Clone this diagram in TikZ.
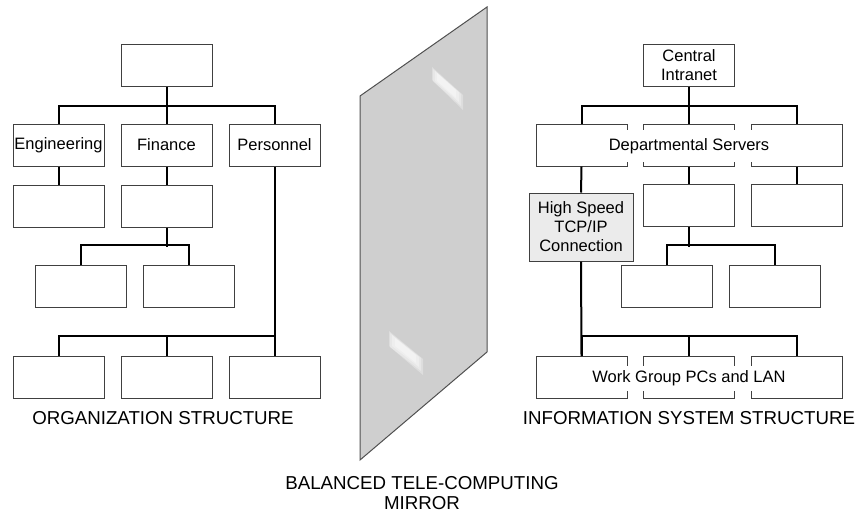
\documentclass[tikz,border=0pt]{standalone}
\usepackage{fontspec}
\setmainfont{Liberation Sans}
\usetikzlibrary{positioning}
\definecolor{boxline}{HTML}{404040}
\definecolor{mirrorfill}{HTML}{CFCFCF}
\definecolor{mirrorline}{HTML}{505050}
\definecolor{hsfill}{HTML}{EBEBEB}
\tikzset{
  box/.style={draw=boxline, line width=1pt, fill=white, minimum width=91pt, minimum height=42pt, inner sep=0pt, align=center, font=\fontsize{16.5}{19}\selectfont},
  conn/.style={draw=black, line width=2pt},
  cover/.style={fill=white, inner xsep=2pt, inner ysep=0pt, font=\fontsize{16.5}{19}\selectfont},
  biglabel/.style={align=center, font=\fontsize{18.7}{20.5}\selectfont, inner sep=0pt},
  glint/.style={white, opacity=0.3}
}
\begin{document}
\begin{tikzpicture}[x=1pt,y=-1pt]
\useasboundingbox (0,0) rectangle (861,512);
% ---------------- mirror ----------------
\draw[fill=mirrorfill, draw=mirrorline, line width=1pt] (360,96) -- (487,7) -- (487,352) -- (360,460) -- cycle;
% upper glint
\fill[glint] (432,67) -- (463,95) -- (463,110) -- (432,80) -- cycle;
\fill[glint] (433,69) -- (461,94) -- (461,106) -- (433,81) -- cycle;
\fill[glint] (435,71) -- (459,92) -- (459,102) -- (435,81) -- cycle;
\fill[glint] (437,73) -- (456,90) -- (456,98) -- (437,81) -- cycle;
% lower glint
\fill[glint] (389,331) -- (423,359) -- (423,375) -- (389,346) -- cycle;
\fill[glint] (390,333) -- (421,358) -- (421,371) -- (390,347) -- cycle;
\fill[glint] (392,335) -- (419,357) -- (419,367) -- (392,346) -- cycle;
\fill[glint] (395,338) -- (416,355) -- (416,363) -- (395,346) -- cycle;
\node[biglabel] (mirrorlabel) at (422,493) {BALANCED TELE-COMPUTING\\MIRROR};
% ---------------- left: organization ----------------
\node[box] (ltop) at (166.5,65) {};
\node[box] (leng) at (58.5,145) {Engineering};
\node[box] (lfin) at (166.5,145) {Finance};
\node[box] (lper) at (274.5,145) {Personnel};
\node[box] (leng2) at (58.5,206) {};
\node[box] (lfin2) at (166.5,206) {};
\node[box] (l41) at (80.5,286.5) {};
\node[box] (l42) at (188.5,286.5) {};
\node[box] (lb1) at (58.5,377.5) {};
\node[box] (lb2) at (166.5,377.5) {};
\node[box] (lb3) at (274.5,377.5) {};
\draw[conn] (ltop.south) -- (lfin.north);
\draw[conn] (leng.north) -- ++(0,-18) -| (lper.north);
\draw[conn] (leng.south) -- (leng2.north);
\draw[conn] (lfin.south) -- (lfin2.north);
\draw[conn] (lfin2.south) -- ++(0,19);
\draw[conn] (l41.north) -- ++(0,-20) -| (l42.north);
\draw[conn] (lper.south) -- (lb3.north);
\draw[conn] (lb1.north) -- ++(0,-20) -| (lb3.north);
\draw[conn] (lb2.north) -- ++(0,-20);
\node[biglabel] (orglabel) at (163,418) {ORGANIZATION STRUCTURE};
% ---------------- right: information system ----------------
\node[box] (rtop) at (689,65) {Central\\Intranet};
\node[box] (rd1) at (581.5,145) {};
\node[box] (rd2) at (689,145) {};
\node[box] (rd3) at (797,145) {};
\node[box, fill=hsfill, minimum width=104pt, minimum height=68pt] (rhs) at (581,227) {High Speed\\TCP/IP\\Connection};
\node[box] (rc2) at (689,205.5) {};
\node[box] (rc3) at (797,205.5) {};
\node[box] (r41) at (667,286.5) {};
\node[box] (r42) at (775,286.5) {};
\node[box] (rb1) at (581.5,377.5) {};
\node[box] (rb2) at (689,377.5) {};
\node[box] (rb3) at (797,377.5) {};
\draw[conn] (rtop.south) -- (rd2.north);
\draw[conn] (rd1.north) -- ++(0,-18) -| (rd3.north);
\draw[conn] (rd1.south) -- (rhs.north);
\draw[conn] (rd2.south) -- (rc2.north);
\draw[conn] (rd3.south) -- (rc3.north);
\draw[conn] (rc2.south) -- ++(0,20);
\draw[conn] (r41.north) -- ++(0,-20) -| (r42.north);
\draw[conn] (rhs.south) -- (rb1.north);
\draw[conn] (rb1.north) -- ++(0,-20) -| (rb3.north);
\draw[conn] (rb2.north) -- ++(0,-20);
\node[cover, minimum height=32pt] (deptext) at (689,146) {Departmental Servers};
\node[cover, minimum height=25pt] (wgtext) at (689,378) {Work Group PCs and LAN};
\node[biglabel] (infolabel) at (689,418) {INFORMATION SYSTEM STRUCTURE};
\end{tikzpicture}
\end{document}
